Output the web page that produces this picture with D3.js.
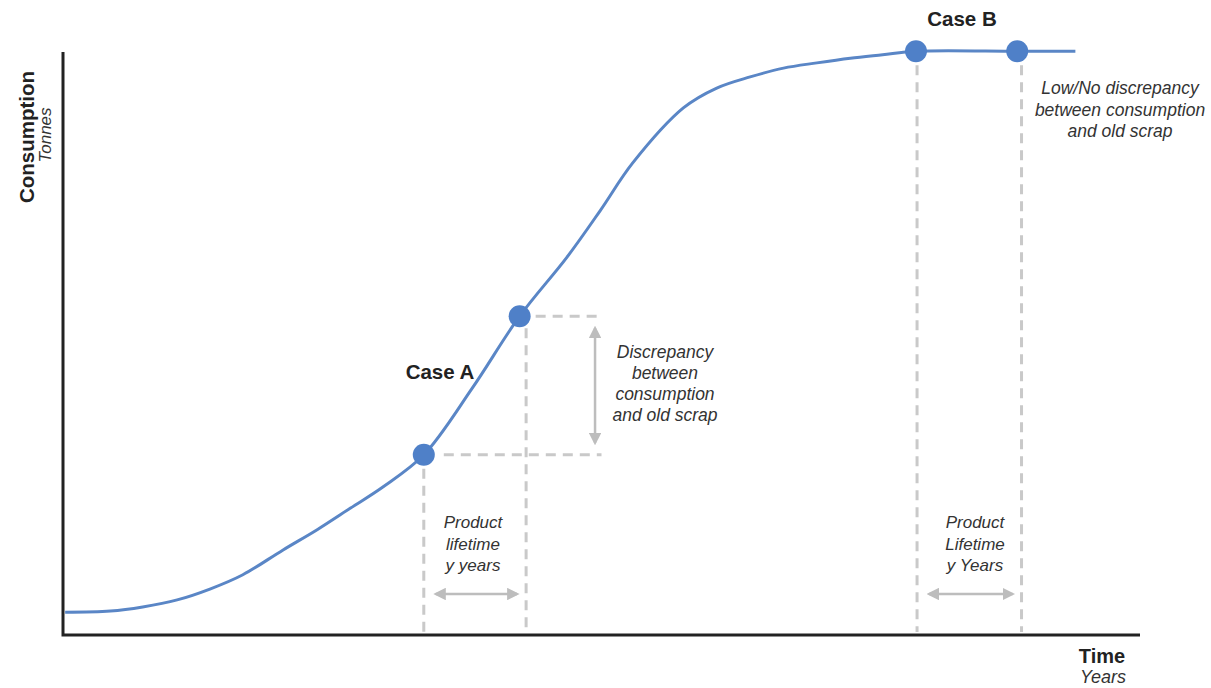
<!DOCTYPE html>
<html>
<head>
<meta charset="utf-8">
<script src="https://cdn.jsdelivr.net/npm/d3@7.8.5/dist/d3.min.js"></script>
<style>
  body { margin: 0; background: #fff; }
  svg { display: block; font-family: "Liberation Sans", Arial, sans-serif; }
</style>
</head>
<body>
<div id="chart"></div>
<script>
// curve (time and consumption on a 0-100 scale)
const time = [0.2, 4.4, 7.4, 10.6, 13.7, 16.7, 20.4, 23.6, 26.7, 29.7, 33.5, 38.0, 42.4,
  46.8, 49.9, 52.9, 57.6, 60.7, 63.8, 66.9, 70.0, 73.1, 76.1, 79.2, 88.6, 94.0]
const consumption = [3.9, 4.1, 4.8, 6.0, 7.9, 10.3, 14.5, 18.0, 21.7, 25.3, 30.8, 42.2, 54.5,
  64.6, 72.6, 80.7, 90.1, 93.5, 95.4, 96.9, 97.8, 98.6, 99.2, 99.8, 99.8, 99.8]

// highlighted points (indices into the arrays above)
const caseAIdx = [10, 12]
const caseBIdx = [23, 24]

// where the dashed lifetime guides drop down
const caseAGuides = [33.5, 43.0]
const caseBGuides = [79.3, 89.0]

const caseALabels = ["Product", "lifetime", "y years"]
const caseBLabels = ["Product", "Lifetime", "y Years"]
const discrepancyLines = ["Discrepancy", "between", "consumption", "and old scrap"]
const lowDiscrepancyLines = ["Low/No discrepancy", "between consumption", "and old scrap"]

const width = 1211, height = 688
const lineColor = "#5a86c6", dotColor = "#4f80c8", guideColor = "#c9c9c9", textColor = "#333"

const x = d3.scaleLinear().domain([0, 100]).range([63, 1140])
const y = d3.scaleLinear().domain([0, 100]).range([635, 50])

const svg = d3.select("#chart").append("svg")
  .attr("width", width).attr("height", height)

const data = time.map((t, i) => ({t, c: consumption[i]}))

// dashed guides
const guides = svg.append("g")
  .attr("stroke", guideColor).attr("stroke-width", 3)
  .attr("stroke-dasharray", "10,7").attr("fill", "none")

const a0 = data[caseAIdx[0]], a1 = data[caseAIdx[1]]
guides.append("line")
  .attr("x1", x(caseAGuides[0])).attr("x2", x(caseAGuides[0]))
  .attr("y1", y(a0.c) + 14).attr("y2", y(0) - 3)
guides.append("line")
  .attr("x1", x(caseAGuides[1])).attr("x2", x(caseAGuides[1]))
  .attr("y1", y(a1.c) + 12).attr("y2", y(0) - 3)
guides.append("line")
  .attr("x1", x(a0.t) + 20).attr("x2", x(50))
  .attr("y1", y(a0.c)).attr("y2", y(a0.c))
guides.append("line")
  .attr("x1", x(a1.t) + 16).attr("x2", x(50))
  .attr("y1", y(a1.c)).attr("y2", y(a1.c))

for (const gx of caseBGuides) {
  guides.append("line")
    .attr("x1", x(gx)).attr("x2", x(gx))
    .attr("y1", y(data[caseBIdx[0]].c) + 14).attr("y2", y(0) - 3)
}

// grey double arrows
svg.append("defs").append("marker")
  .attr("id", "head").attr("viewBox", "0 0 10 10")
  .attr("refX", 8).attr("refY", 5)
  .attr("markerWidth", 5).attr("markerHeight", 5)
  .attr("orient", "auto-start-reverse")
  .append("path").attr("d", "M0,0L10,5L0,10Z").attr("fill", "#bdbdbd")

const arrows = svg.append("g")
  .attr("stroke", "#bdbdbd").attr("stroke-width", 2.5)
  .attr("marker-start", "url(#head)").attr("marker-end", "url(#head)")

arrows.append("line")
  .attr("x1", x(49.4)).attr("x2", x(49.4))
  .attr("y1", y(a1.c) + 12).attr("y2", y(a0.c) - 12)
arrows.append("line")
  .attr("x1", x(caseAGuides[0]) + 12).attr("x2", x(caseAGuides[1]) - 9)
  .attr("y1", 594).attr("y2", 594)
arrows.append("line")
  .attr("x1", x(caseBGuides[0]) + 12).attr("x2", x(caseBGuides[1]) - 9)
  .attr("y1", 594).attr("y2", 594)

// axes as plain lines
svg.append("path")
  .attr("d", `M${x(0)},${y(100) + 2}V${y(0)}H${x(100)}`)
  .attr("fill", "none").attr("stroke", "#222").attr("stroke-width", 3)

// the S curve
svg.append("path")
  .datum(data)
  .attr("d", d3.line().x(d => x(d.t)).y(d => y(d.c)).curve(d3.curveCatmullRom.alpha(0.5)))
  .attr("fill", "none").attr("stroke", lineColor).attr("stroke-width", 3)

svg.append("g").selectAll("circle")
  .data([...caseAIdx, ...caseBIdx].map(i => data[i]))
  .join("circle")
    .attr("cx", d => x(d.t)).attr("cy", d => y(d.c))
    .attr("r", 11).attr("fill", dotColor)

// text helpers
function block(lines, cx, cy, size, lh) {
  const t = svg.append("text")
    .attr("text-anchor", "middle").attr("font-size", size)
    .attr("font-style", "italic").attr("fill", textColor)
  lines.forEach((s, i) => {
    t.append("tspan").attr("x", cx).attr("y", cy + i * lh).text(s)
  })
}

block(discrepancyLines, 665, 358, 17.5, 21)
block(lowDiscrepancyLines, 1120, 94, 17.5, 21.5)
block(caseALabels, 473, 528, 17, 21.5)
block(caseBLabels, 975, 528, 17, 21.5)

svg.append("text").attr("x", 440).attr("y", 379)
  .attr("text-anchor", "middle").attr("font-size", 20.5).attr("font-weight", "bold")
  .attr("fill", "#222").text("Case A")
svg.append("text").attr("x", 962).attr("y", 26)
  .attr("text-anchor", "middle").attr("font-size", 20.5).attr("font-weight", "bold")
  .attr("fill", "#222").text("Case B")

// axis titles
svg.append("text").attr("transform", "translate(34,137) rotate(-90)")
  .attr("text-anchor", "middle").attr("font-size", 20.5).attr("font-weight", "bold")
  .attr("fill", "#222").text("Consumption")
svg.append("text").attr("transform", "translate(51,135) rotate(-90)")
  .attr("text-anchor", "middle").attr("font-size", 17).attr("font-style", "italic")
  .attr("fill", textColor).text("Tonnes")
svg.append("text").attr("x", 1102).attr("y", 663)
  .attr("text-anchor", "middle").attr("font-size", 20).attr("font-weight", "bold")
  .attr("fill", "#222").text("Time")
svg.append("text").attr("x", 1103).attr("y", 683)
  .attr("text-anchor", "middle").attr("font-size", 18).attr("font-style", "italic")
  .attr("fill", textColor).text("Years")
</script>
</body>
</html>
